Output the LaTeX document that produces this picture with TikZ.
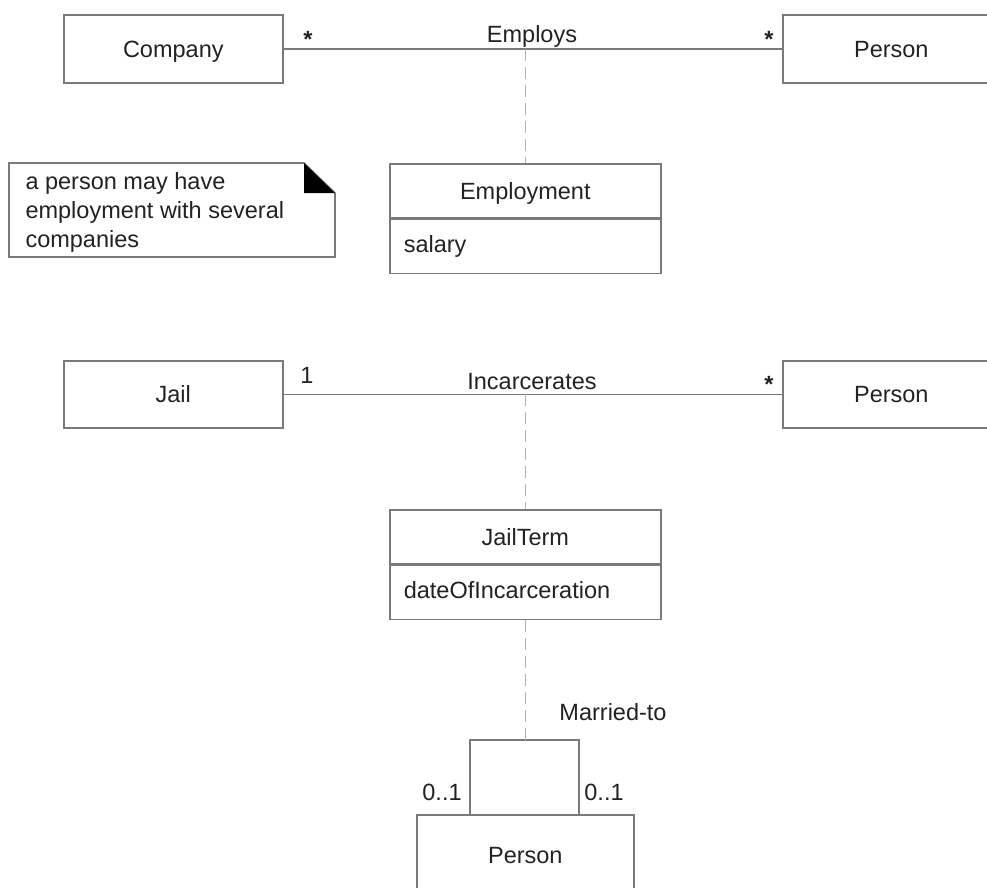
\documentclass[tikz,border=0pt]{standalone}
\usepackage{fontspec}
\setmainfont{Liberation Sans}
\definecolor{umlgray}{HTML}{7A7A7A}
\definecolor{dashgray}{HTML}{B4B4B4}
\definecolor{inkgray}{HTML}{222222}
\begin{document}
\begin{tikzpicture}[x=1pt,y=-1pt,
    font=\fontsize{23.5}{29}\selectfont, text=inkgray,
    classbox/.style={draw=umlgray, line width=1.6pt, inner sep=0pt, text height=17pt, text depth=0pt, anchor=north west},
    attrbox/.style={classbox, inner xsep=14pt, text height=13pt, align=left, text width=243pt},
    assoc/.style={draw=umlgray, line width=1.6pt},
    linkdash/.style={draw=dashgray, line width=1.6pt, dash pattern=on 12pt off 6pt},
    mult/.style={anchor=base}]
    \useasboundingbox (0,0) rectangle (987,888);
    \clip (0,0) rectangle (987,888);
    % Company employs Person
    \node [classbox, minimum width=219pt, minimum height=68pt] (company) at (63,14) {Company};
    \node [classbox, minimum width=217pt, minimum height=68pt] (person) at (782,14) {Person};
    \draw [assoc] (company) -- (person);
    \node [anchor=base] (employs) at (532,43) {Employs};
    \node [mult, font=\fontsize{23.5}{29}\selectfont\bfseries] (companystar) at (308,48) {*};
    \node [mult, font=\fontsize{23.5}{29}\selectfont\bfseries] (personstar) at (769,48) {*};
    \node [classbox, minimum width=271pt, minimum height=54pt] (employment) at (389,163) {Employment};
    \node [attrbox, minimum height=54pt] (employmentattr) at (employment.south west) {salary};
    \draw [linkdash] (employment.north |- company.east) -- (employment.north);
    % note
    \draw [umlgray, line width=1.6pt] (9,163) -- (304,163) -- (335,193) -- (335,257) -- (9,257) -- cycle;
    \fill [black] (304,163) -- (304,193) -- (335,193) -- cycle;
    \node [anchor=base west, align=left] (note) at (22,247) {a person may have\\employment with several\\companies};
    % Jail incarcerates Person
    \node [classbox, minimum width=219pt, minimum height=67pt] (jail) at (63,360) {Jail};
    \node [classbox, minimum width=217pt, minimum height=67pt] (inmate) at (782,360) {Person};
    \draw [assoc] (jail) -- (inmate);
    \node [anchor=base] (incarcerates) at (532,389) {Incarcerates};
    \node [mult] (jailone) at (307,383) {1};
    \node [mult, font=\fontsize{23.5}{29}\selectfont\bfseries] (inmatestar) at (769,392) {*};
    \node [classbox, minimum width=271pt, minimum height=54pt] (jailterm) at (389,509) {JailTerm};
    \node [attrbox, minimum height=54pt] (jailtermattr) at (jailterm.south west) {dateOfIncarceration};
    \draw [linkdash] (jailterm.north |- jail.east) -- (jailterm.north);
    % Person married to Person
    \node [classbox, minimum width=217pt, minimum height=81pt] (spouse) at (416,814) {Person};
    \coordinate (loopleft) at (470,740);
    \coordinate (loopright) at (579,740);
    \draw [assoc] (spouse.north -| loopleft) -- (loopleft) -- (loopright) -- (spouse.north -| loopright);
    \draw [linkdash] (jailtermattr.south) -- (jailtermattr.south |- loopleft);
    \node [anchor=base] (marriedto) at (613,720) {Married-to};
    \node [mult] (leftone) at (442,800) {0..1};
    \node [mult] (rightone) at (604,800) {0..1};
\end{tikzpicture}
\end{document}
